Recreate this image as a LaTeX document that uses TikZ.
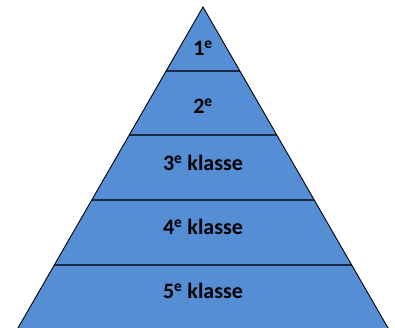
\documentclass[tikz,border=0pt]{standalone}
\usepackage{fontspec}
\setmainfont{Carlito}
\definecolor{fillblue}{HTML}{558ED5}
\definecolor{linenavy}{HTML}{1C2B45}
\begin{document}
\begin{tikzpicture}[x=1pt,y=-1pt,
  lbl/.style={font=\fontsize{22}{25}\selectfont\bfseries, text=black, inner sep=0pt, anchor=center},
  band/.style={line width=1.8pt, draw=linenavy}]
\useasboundingbox (0,0) rectangle (395,328);
\coordinate (apex) at (203,7);
\coordinate (bl) at (18,328);
\coordinate (br) at (388,328);
\fill[fillblue] (apex) -- (br) -- (bl) -- cycle;
% band lines
\foreach \yy/\nm in {71/a,135/b,200/c,265/d}{
  \pgfmathsetmacro{\hw}{0.57632*(\yy-7)}
  \coordinate (\nm L) at ({203-\hw},\yy);
  \coordinate (\nm R) at ({203+\hw},\yy);
  \draw[band] (\nm L) -- (\nm R);
}
\draw[black, line width=0.9pt, line join=miter] (bl) -- (apex) -- (br);
\node[lbl] (t1) at (203,48) {1\textsuperscript{e}};
\node[lbl] (t2) at (203,106) {2\textsuperscript{e}};
\node[lbl] (t3) at (203,163) {3\textsuperscript{e} klasse};
\node[lbl] (t4) at (203,227) {4\textsuperscript{e} klasse};
\node[lbl] (t5) at (203,291) {5\textsuperscript{e} klasse};
\end{tikzpicture}
\end{document}
